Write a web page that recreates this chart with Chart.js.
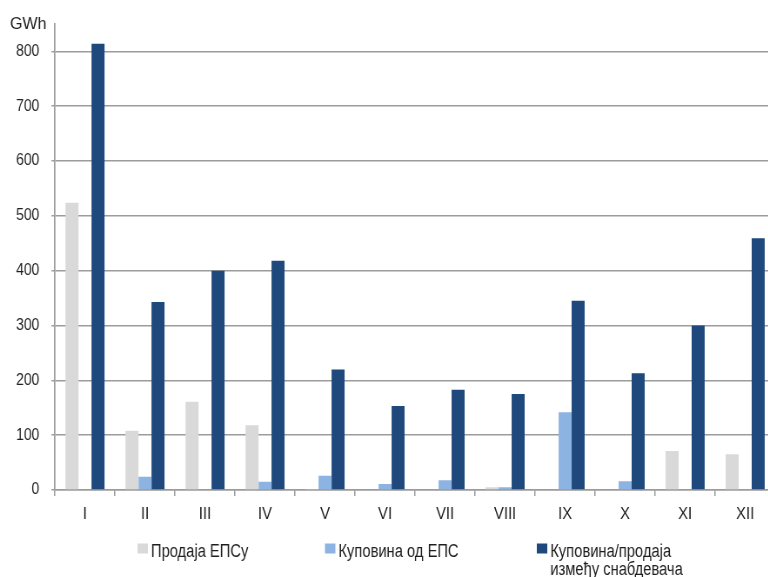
<!DOCTYPE html>
<html>
<head>
<meta charset="utf-8">
<script src="https://cdn.jsdelivr.net/npm/chart.js@4.4.1/dist/chart.umd.min.js"></script>
<style>
  html, body { margin: 0; padding: 0; background: #fff; overflow: hidden; }
  #wrap { width: 768px; height: 577px; overflow: hidden; position: relative; }
  /* the chart is drawn wide and narrowed horizontally, giving the condensed lettering */
  canvas { display: block; transform: scaleX(0.87); transform-origin: 0 0; }
</style>
</head>
<body>
<div id="wrap"><canvas id="c" width="891" height="577"></canvas></div>
<script>
// Months (Roman numerals)
const months = ['I', 'II', 'III', 'IV', 'V', 'VI', 'VII', 'VIII', 'IX', 'X', 'XI', 'XII'];

// Monthly volumes, GWh
const salesToEps = [524, 108, 161, 118, 1, 0, 0, 5, 0, 0, 71, 65];
const purchaseFromEps = [0, 24, 0, 15, 26, 11, 18, 5, 142, 16, 0, 0];
const tradeBetweenSuppliers = [814, 343, 400, 418, 220, 153, 183, 175, 345, 213, 300, 459];

// Legend labels (last one wraps to two lines)
const seriesNames = [
  ['Продаја ЕПСу'],
  ['Куповина од ЕПС'],
  ['Куповина/продаја', 'између снабдевача']
];
const yTicks = [0, 100, 200, 300, 400, 500, 600, 700, 800];
const unitLabel = 'GWh';

const colors = ['#d9d9d9', '#8db3e2', '#1f497d'];
const gridGray = '#9c9c9c';
const textColor = '#1e1e1e';
const FONT = '"Liberation Sans", Arial, sans-serif';
const SQUEEZE = 0.87;

function stretchedText(ctx, text, x, y, k) {
  ctx.save();
  ctx.translate(x, y);
  ctx.scale(k, 1);
  ctx.fillText(text, 0, 0);
  ctx.restore();
}

const legendAndUnit = {
  id: 'legendAndUnit',
  afterDraw(chart) {
    const ctx = chart.ctx;
    ctx.save();
    ctx.fillStyle = textColor;
    ctx.textBaseline = 'alphabetic';
    ctx.textAlign = 'left';

    // unit above the value axis
    ctx.font = '16px ' + FONT;
    stretchedText(ctx, unitLabel, 11.5, 28.5, 1 / SQUEEZE);

    // legend row under the month labels
    const xs = [158, 373.5, 617];
    ctx.font = '18px ' + FONT;
    chart.data.datasets.forEach((ds, i) => {
      const x = xs[i];
      ctx.fillStyle = ds.backgroundColor;
      ctx.fillRect(x, 543.5, 12, 10);
      ctx.fillStyle = textColor;
      seriesNames[i].forEach((line, j) => {
        stretchedText(ctx, line, x + 15.5, 556.5 + j * 18, 0.94);
      });
    });
    ctx.restore();
  }
};

new Chart(document.getElementById('c'), {
  type: 'bar',
  data: {
    labels: months,
    datasets: [
      { label: seriesNames[0].join(' '), data: salesToEps, backgroundColor: colors[0] },
      { label: seriesNames[1].join(' '), data: purchaseFromEps, backgroundColor: colors[1] },
      { label: seriesNames[2].join(' '), data: tradeBetweenSuppliers, backgroundColor: colors[2] }
    ]
  },
  options: {
    responsive: false,
    animation: false,
    devicePixelRatio: 1,
    layout: { padding: { top: 24, left: 0, right: 0, bottom: 0 } },
    datasets: {
      bar: { categoryPercentage: 0.65, barPercentage: 1.0, borderWidth: 0 }
    },
    plugins: {
      legend: { display: false },
      tooltip: { enabled: false }
    },
    scales: {
      x: {
        offset: true,
        grid: {
          display: true,
          drawOnChartArea: false,
          offset: true,
          tickLength: 6,
          color: gridGray,
          lineWidth: 1.5
        },
        border: { display: true, color: gridGray, width: 1.5 },
        ticks: {
          color: textColor,
          font: { family: FONT, size: 17 },
          padding: 8,
          maxRotation: 0,
          autoSkip: false
        },
        afterFit(scale) { scale.height = 87; }
      },
      y: {
        min: 0,
        max: 850,
        grid: { color: gridGray, lineWidth: 1.5, tickLength: 4 },
        border: { display: true, color: gridGray, width: 1.7 },
        ticks: {
          color: textColor,
          font: { family: FONT, size: 16 },
          padding: 14
        },
        afterBuildTicks(scale) {
          scale.ticks = yTicks.map(v => ({ value: v }));
        },
        afterFit(scale) { scale.width = 63.2; }
      }
    }
  },
  plugins: [legendAndUnit]
});
</script>
</body>
</html>
